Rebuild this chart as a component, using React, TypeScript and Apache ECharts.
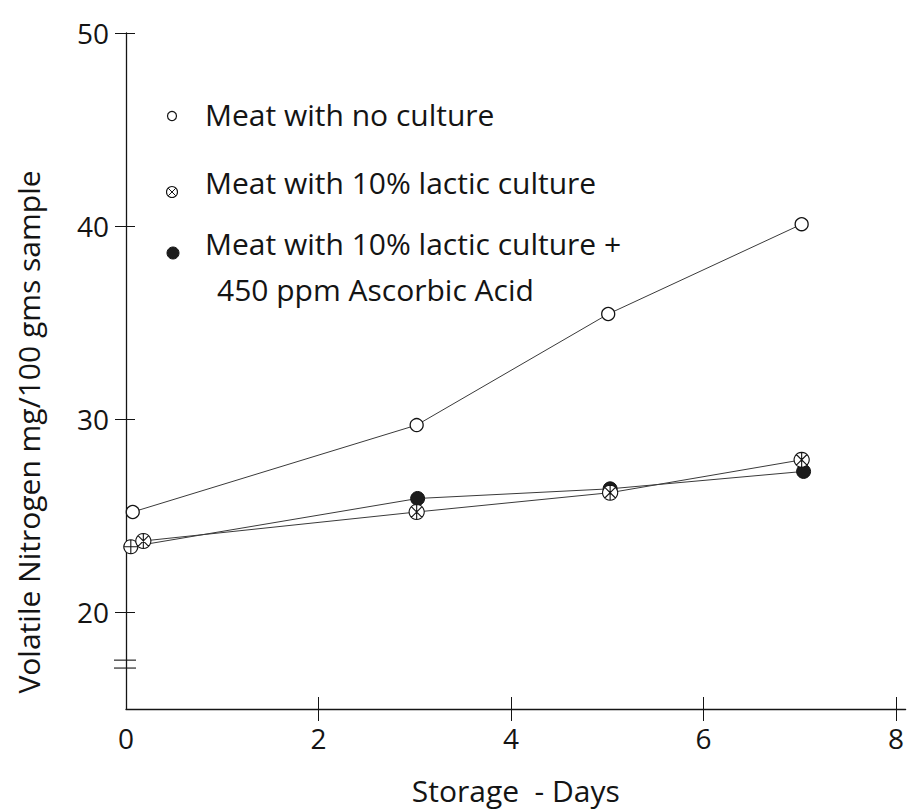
import React, { useEffect, useRef } from "react";
import * as echarts from "echarts";

// Series names
const seriesNames = [
  "Meat with no culture",
  "Meat with 10% lactic culture",
  "Meat with 10% lactic culture + 450 ppm Ascorbic Acid",
];

// [storage days, volatile nitrogen mg/100 g]
const noCulture = [
  [0.07, 25.2],
  [3.02, 29.7],
  [5.01, 35.45],
  [7.02, 40.1],
];
const lacticCulture = [
  [0.18, 23.7],
  [3.02, 25.2],
  [5.03, 26.2],
  [7.02, 27.9],
];
const lacticAscorbic = [
  [0.05, 23.4],
  [3.03, 25.9],
  [5.03, 26.4],
  [7.04, 27.3],
];

// Axis ticks and labels
const xTickValues = [2, 4, 6, 8];
const xLabelValues = [0, 2, 4, 6, 8];
const yTickValues = [20, 30, 40, 50];
// Levels of the "broken axis" marks on the y axis
const axisBreakLevels = [17.12, 17.53];

const FONT = "'Open Sans', 'Liberation Sans', sans-serif";
const INK = "#141414";

// Circle with hatch strokes, used for the lactic-culture series
const HATCH_SYMBOL =
  "path://M10 1A9 9 0 1 1 9.99 1ZM3.6 3.6L16.4 16.4M16.4 3.6L3.6 16.4M10 1L10 19";
// Circle with a cross, the starting (day 0) sample of the ascorbic series
const CROSS_SYMBOL = "path://M10 1A9 9 0 1 1 9.99 1ZM1 10L19 10M10 1L10 19";

export default function App() {
  const ref = useRef<HTMLDivElement>(null);

  useEffect(() => {
    if (!ref.current) return;
    const chart = echarts.init(ref.current, undefined, { renderer: "svg" });

    const gridLeft = 126;
    const gridTop = 33;
    const gridWidth = 779.6;
    const gridHeight = 676;

    const legendText = (text: string, x: number, y: number) => ({
      type: "text",
      x,
      y,
      style: {
        text,
        fontFamily: FONT,
        fontSize: 30,
        fill: INK,
        verticalAlign: "middle",
        textVerticalAlign: "middle",
      },
    });

    const option: any = {
      animation: false,
      backgroundColor: "#ffffff",
      grid: {
        left: gridLeft,
        top: gridTop,
        width: gridWidth,
        height: gridHeight,
        containLabel: false,
        outerBoundsMode: "none",
      },
      xAxis: [
        {
          type: "value",
          min: 0,
          max: 8.1,
          name: "Storage  - Days",
          nameLocation: "middle",
          nameGap: 66,
          nameTextStyle: { fontFamily: FONT, fontSize: 30, color: INK },
          axisLine: { show: true, lineStyle: { color: INK, width: 1.3 } },
          axisTick: {
            show: true,
            length: 12,
            customValues: xTickValues,
            lineStyle: { color: INK, width: 1 },
          },
          axisLabel: {
            customValues: xLabelValues,
            fontFamily: FONT,
            fontSize: 28,
            color: INK,
            margin: 15,
          },
          splitLine: { show: false },
        },
        {
          type: "value",
          min: 0,
          max: 8.1,
          position: "bottom",
          axisLine: { show: false },
          axisTick: {
            show: true,
            inside: true,
            length: 12,
            customValues: xTickValues,
            lineStyle: { color: INK, width: 1 },
          },
          axisLabel: { show: false },
          splitLine: { show: false },
        },
      ],
      yAxis: [
        {
          type: "value",
          min: 15,
          max: 50,
          axisLine: { show: true, lineStyle: { color: INK, width: 1.3 } },
          axisTick: {
            show: true,
            length: 11,
            customValues: yTickValues,
            lineStyle: { color: INK, width: 1 },
          },
          axisLabel: {
            customValues: yTickValues,
            fontFamily: FONT,
            fontSize: 28,
            color: INK,
            margin: 17,
          },
          splitLine: { show: false },
        },
        {
          type: "value",
          min: 15,
          max: 50,
          position: "left",
          axisLine: { show: false },
          axisTick: {
            show: true,
            inside: true,
            length: 9,
            customValues: yTickValues,
            lineStyle: { color: INK, width: 1 },
          },
          axisLabel: { show: false },
          splitLine: { show: false },
        },
      ],
      series: [
        {
          name: seriesNames[0],
          type: "line",
          data: noCulture,
          symbol: "circle",
          symbolSize: 13,
          itemStyle: { color: "#ffffff", borderColor: INK, borderWidth: 1.3 },
          lineStyle: { color: "#3a3a3a", width: 1 },
          z: 3,
        },
        {
          name: seriesNames[1],
          type: "line",
          data: lacticCulture,
          symbol: HATCH_SYMBOL,
          symbolKeepAspect: true,
          symbolSize: 15,
          itemStyle: { color: "#ffffff", borderColor: INK, borderWidth: 1.1 },
          lineStyle: { color: "#3a3a3a", width: 1 },
          z: 3,
        },
        {
          name: seriesNames[2],
          type: "line",
          data: lacticAscorbic.map((v, i) =>
            i === 0
              ? {
                  value: v,
                  symbol: CROSS_SYMBOL,
                  itemStyle: { color: "#ffffff", borderColor: INK, borderWidth: 1.1 },
                }
              : v
          ),
          symbol: "circle",
          symbolSize: 14,
          itemStyle: { color: "#1c1c1c", borderColor: INK, borderWidth: 1 },
          lineStyle: { color: "#3a3a3a", width: 1 },
          z: 2,
        },
        {
          // short strokes across the y axis marking the scale break
          type: "custom",
          clip: false,
          silent: true,
          data: axisBreakLevels.map((v) => [0, v]),
          renderItem: (_params: any, api: any) => {
            const p = api.coord([api.value(0), api.value(1)]);
            return {
              type: "line",
              shape: { x1: p[0] - 12, y1: p[1], x2: p[0] + 10, y2: p[1] },
              style: { stroke: INK, lineWidth: 1.1 },
            };
          },
          z: 5,
        },
      ],
      graphic: [
        {
          type: "text",
          x: 28,
          y: 432,
          rotation: Math.PI / 2,
          style: {
            text: "Volatile Nitrogen mg/100 gms sample",
            fontFamily: FONT,
            fontSize: 30,
            fill: INK,
            align: "center",
            verticalAlign: "middle",
            textAlign: "center",
            textVerticalAlign: "middle",
          },
        },
        // key
        {
          type: "circle",
          shape: { cx: 172, cy: 116, r: 4.5 },
          style: { fill: "#fff", stroke: INK, lineWidth: 1.2 },
        },
        legendText(seriesNames[0], 205, 114),
        {
          type: "group",
          x: 172,
          y: 192,
          children: [
            {
              type: "circle",
              shape: { cx: 0, cy: 0, r: 5.5 },
              style: { fill: "#fff", stroke: INK, lineWidth: 1.1 },
            },
            {
              type: "line",
              shape: { x1: -3.8, y1: -3.8, x2: 3.8, y2: 3.8 },
              style: { stroke: INK, lineWidth: 1 },
            },
            {
              type: "line",
              shape: { x1: 3.8, y1: -3.8, x2: -3.8, y2: 3.8 },
              style: { stroke: INK, lineWidth: 1 },
            },
          ],
        },
        legendText(seriesNames[1], 205, 182),
        {
          type: "circle",
          shape: { cx: 173, cy: 253, r: 6 },
          style: { fill: "#1c1c1c", stroke: INK, lineWidth: 1 },
        },
        legendText("Meat with 10% lactic culture +", 205, 243),
        legendText("450 ppm Ascorbic Acid", 217, 289),
      ],
    };

    chart.setOption(option);
    return () => chart.dispose();
  }, []);

  return (
    <div
      ref={ref}
      style={{
        position: "fixed",
        left: 0,
        top: 0,
        width: 907,
        height: 810,
        background: "#ffffff",
      }}
    />
  );
}
